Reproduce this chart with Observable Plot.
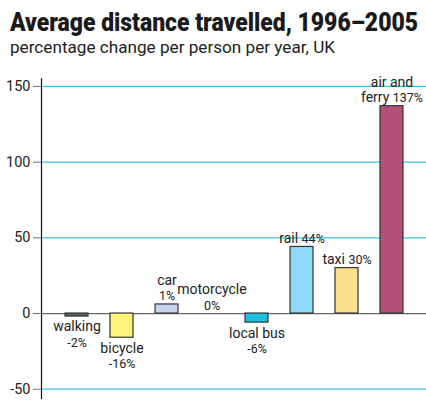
<!DOCTYPE html>
<html>
<head>
<meta charset="utf-8">
<script src="https://cdn.jsdelivr.net/npm/d3@7"></script>
<script src="https://cdn.jsdelivr.net/npm/@observablehq/plot@0.6"></script>
<style>
  html, body { margin: 0; padding: 0; background: #fff; }
  body { width: 426px; height: 402px; position: relative; overflow: hidden;
         font-family: "Roboto", "Liberation Sans", sans-serif; color: #222; }
  #title { position: absolute; left: 10px; top: 7px; margin: 0; font-size: 25.5px; font-weight: 900; white-space: nowrap; color: #1a1a1a; transform-origin: 0 0; line-height: normal; }
  #subtitle { position: absolute; left: 10px; top: 38px; margin: 0; font-size: 16.2px; white-space: nowrap; color: #222; transform-origin: 0 0; line-height: normal; }
  #chart { position: absolute; left: 0; top: 70px; }
</style>
</head>
<body>
<div id="title">Average distance travelled, 1996–2005</div>
<div id="subtitle">percentage change per person per year, UK</div>
<div id="chart"></div>
<script>
const categories = ["walking", "bicycle", "car", "motorcycle", "local bus", "rail", "taxi", "air and ferry"];
const values = [-2, -16, 6, 0, -6, 44, 30, 137];
const labels = ["walking\n-2%", "bicycle\n-16%", "car\n1%", "motorcycle\n0%", "local bus\n-6%", "rail 44%", "taxi 30%", "air and\nferry 137%"];
const colors = ["#4f6b55", "#fff27a", "#c8d4ee", "#333333", "#1fbfe0", "#8fd9f7", "#fde08e", "#b45078"];
const gridValues = [150, 100, 50, -50];
const tickValues = [150, 100, 50, 0, -50];

const data = categories.map((c, i) => ({ cat: c, value: values[i], label: labels[i], color: colors[i] }));

const font = '"Roboto", "Liberation Sans", sans-serif';

// condense HTML headings to the reference widths
function fitWidth(id, target) {
  const el = document.getElementById(id);
  const w = el.getBoundingClientRect().width;
  el.style.transform = `scaleX(${target / w})`;
}
fitWidth("title", 408);
fitWidth("subtitle", 325);

const plot = Plot.plot({
  width: 426,
  height: 332,
  marginLeft: 41,
  marginRight: 0,
  marginTop: 8.4,
  marginBottom: 4.2,
  style: { fontFamily: font, fontSize: "14px", color: "#222", background: "transparent" },
  x: { domain: categories, paddingInner: 0.49, paddingOuter: 0.5, axis: null },
  y: { domain: [-56, 155], axis: null },
  marks: [
    Plot.ruleY(gridValues, { stroke: "#3ec0f0", strokeWidth: 1.2 }),
    Plot.ruleY([0], { stroke: "#666", strokeWidth: 1.2 }),
    Plot.axisY({ ticks: tickValues, label: null, tickSize: 8, tickPadding: 3, stroke: "#777", fill: "#222", fontSize: 14.5, tickFormat: d => String(d) }),
    Plot.barY(data, { x: "cat", y: "value", fill: "color", stroke: "#333", strokeWidth: 1.2 }),
    Plot.frame({ anchor: "left", stroke: "#111", strokeWidth: 1.2 }),
    Plot.text(data.filter(d => d.value >= 0), { x: "cat", y: "value", text: "label", lineAnchor: "bottom", dy: -4, fontSize: 14, lineHeight: 1.1, fill: "#222", className: "lbl" }),
    Plot.text(data.filter(d => d.value < 0), { x: "cat", y: "value", text: "label", lineAnchor: "top", dy: 4, fontSize: 14, lineHeight: 1.1, fill: "#222", className: "lbl" })
  ]
});
document.getElementById("chart").appendChild(plot);

// make the percentage parts of labels smaller
d3.select(plot).selectAll(".lbl text").each(function () {
  const t = d3.select(this);
  const nodes = t.selectAll("tspan").size() ? t.selectAll("tspan").nodes() : [this];
  nodes.forEach(n => {
    const m = /^(.*?)(-?\d+%)$/.exec(n.textContent);
    if (!m) return;
    n.textContent = m[1];
    const s = document.createElementNS("http://www.w3.org/2000/svg", "tspan");
    s.setAttribute("font-size", "12.5");
    s.textContent = m[2];
    n.appendChild(s);
  });
});
</script>
</body>
</html>
